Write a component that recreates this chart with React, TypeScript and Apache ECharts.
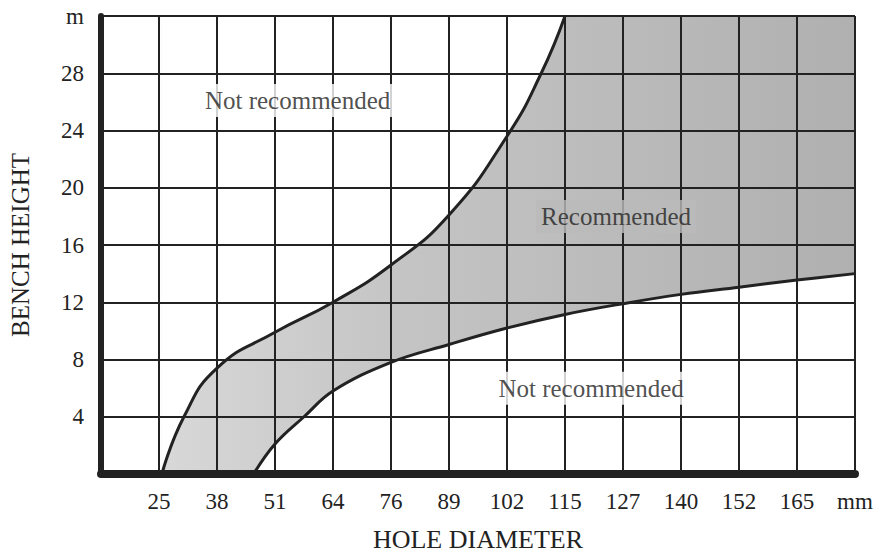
import React, { useEffect, useRef } from "react";
import * as echarts from "echarts";

// X positions are hole diameters in inches (ticks every 1/2 inch); labels are the mm values printed on the chart.
const holeDiameterLabels = ["25", "38", "51", "64", "76", "89", "102", "115", "127", "140", "152", "165"];
const xUnitLabel = "mm";
const xMin = 0.5;
const xMax = 7;
const xStep = 0.5;

const yMin = 0;
const yMax = 32;
const yStep = 4;
const yUnitLabel = "m";

// Left (upper) boundary of the recommended zone: [diameter (in), bench height (m)]
const upperBoundary: [number, number][] = [
  [1.025, 0], [1.215, 4], [1.5, 7.4], [2, 9.9], [2.5, 12], [3, 14.6],
  [3.5, 18.1], [4, 23.6], [4.295, 28], [4.5, 32],
];

// Lower boundary of the recommended zone
const lowerBoundary: [number, number][] = [
  [1.815, 0], [2, 2.1], [2.25, 4], [2.5, 5.8], [3, 7.8], [3.5, 9.05], [4, 10.2],
  [4.5, 11.15], [5, 11.9], [5.5, 12.55], [6, 13.05], [6.5, 13.55], [7, 14.0],
];

const zoneLabels = [
  { name: "Not recommended", value: [2.195, 26.1], bg: "#ffffff" },
  { name: "Recommended", value: [4.94, 18.0], bg: "#bababa" },
  { name: "Not recommended", value: [4.725, 6.0], bg: "#ffffff" },
];

const FONT = "'Liberation Serif', 'Times New Roman', serif";
const INK = "#222222";
const TEXT = "#222222";

export default function App() {
  const ref = useRef<HTMLDivElement>(null);

  useEffect(() => {
    if (!ref.current) return;
    const chart = echarts.init(ref.current, null, { renderer: "svg" });

    const option: any = {
      animation: false,
      backgroundColor: "#ffffff",
      grid: { left: 101, right: 29, top: 16, bottom: 84, outerBoundsMode: "none", containLabel: false },
      xAxis: {
        type: "value",
        min: xMin,
        max: xMax,
        interval: xStep,
        z: 5,
        axisLine: { show: true, onZero: false, lineStyle: { color: INK, width: 8 } },
        axisTick: { show: false },
        splitLine: { show: true, lineStyle: { color: INK, width: 2 } },
        axisLabel: {
          margin: 16,
          showMinLabel: true,
          showMaxLabel: true,
          fontFamily: FONT,
          fontSize: 23,
          color: TEXT,
          formatter: (v: number) => {
            if (Math.abs(v - xMax) < 1e-6) return xUnitLabel;
            const i = Math.round(v / xStep) - 2;
            return i >= 0 && i < holeDiameterLabels.length ? holeDiameterLabels[i] : "";
          },
        },
        name: "HOLE DIAMETER",
        nameLocation: "middle",
        nameGap: 52,
        nameTextStyle: { fontFamily: FONT, fontSize: 26, color: TEXT },
      },
      yAxis: {
        type: "value",
        min: yMin,
        max: yMax,
        interval: yStep,
        z: 5,
        axisLine: { show: true, onZero: false, lineStyle: { color: INK, width: 6 } },
        axisTick: { show: false },
        splitLine: { show: true, lineStyle: { color: INK, width: 2 } },
        axisLabel: {
          margin: 17,
          showMinLabel: true,
          showMaxLabel: true,
          fontFamily: FONT,
          fontSize: 23,
          color: TEXT,
          formatter: (v: number) => (v === yMin ? "" : v === yMax ? yUnitLabel : String(v)),
        },
        name: "BENCH HEIGHT",
        nameLocation: "middle",
        nameGap: 68,
        nameTextStyle: { fontFamily: FONT, fontSize: 25, color: TEXT },
      },
      series: [
        {
          // gray base for the recommended zone
          type: "line",
          data: [[upperBoundary[0][0], yMax], [xMax, yMax]],
          symbol: "none",
          lineStyle: { width: 0, opacity: 0 },
          areaStyle: {
            opacity: 1,
            origin: "start",
            color: new echarts.graphic.LinearGradient(0, 0, 1, 0, [
              { offset: 0, color: "#d8d8d8" },
              { offset: 0.35, color: "#c4c4c4" },
              { offset: 1, color: "#b0b0b0" },
            ]),
          },
          z: 1,
          silent: true,
        },
        {
          type: "line",
          data: upperBoundary,
          smooth: 0.5,
          symbol: "none",
          lineStyle: { color: INK, width: 3 },
          areaStyle: { color: "#ffffff", opacity: 1, origin: "end" },
          z: 2,
          silent: true,
        },
        {
          type: "line",
          data: lowerBoundary,
          smooth: 0.4,
          symbol: "none",
          lineStyle: { color: INK, width: 3 },
          areaStyle: { color: "#ffffff", opacity: 1, origin: "start" },
          z: 2,
          silent: true,
        },
        {
          type: "scatter",
          symbolSize: 0,
          z: 10,
          silent: true,
          data: zoneLabels.map((d) => ({
            name: d.name,
            value: d.value,
            label: { backgroundColor: d.bg },
          })),
          label: {
            show: true,
            position: "inside",
            formatter: (p: any) => p.name,
            fontFamily: FONT,
            fontSize: 25,
            color: TEXT,
            padding: [4, 5],
          },
        },
      ],
    };

    chart.setOption(option);
    return () => chart.dispose();
  }, []);

  return (
    <div
      ref={ref}
      style={{ position: "absolute", left: 0, top: 0, width: 884, height: 558 }}
    />
  );
}
